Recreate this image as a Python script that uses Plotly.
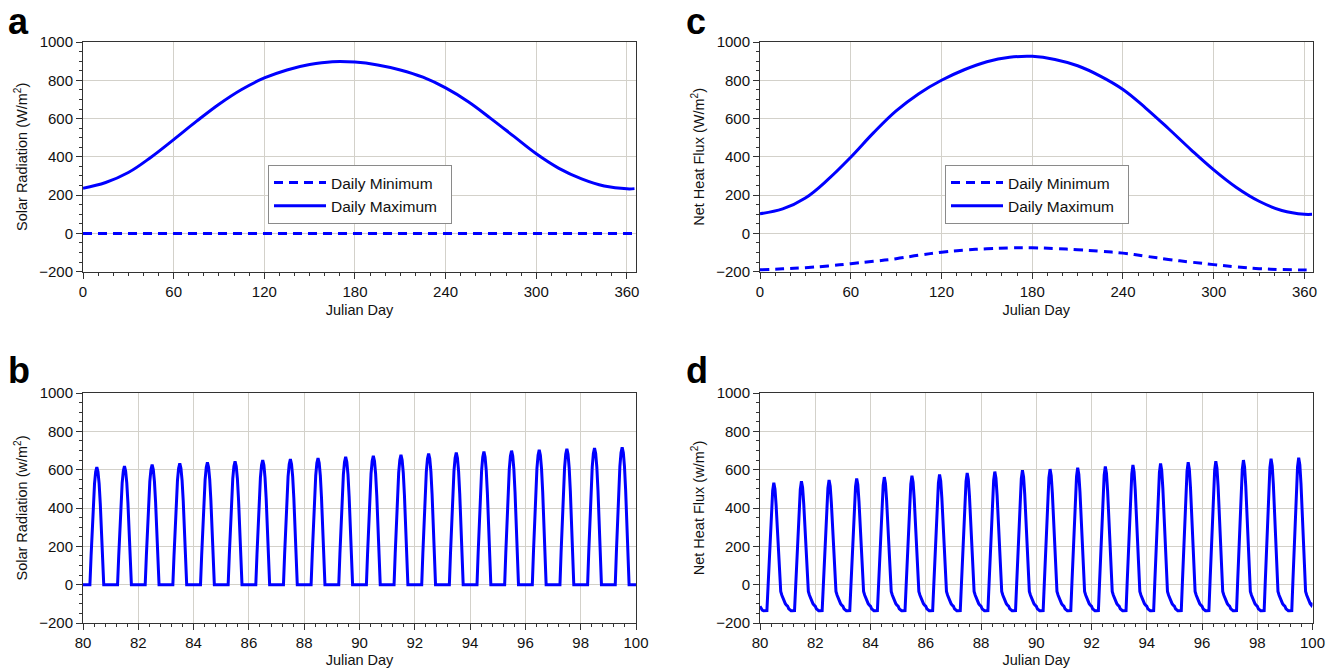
import plotly.graph_objects as go

# ---------------- data ----------------
annual_days = [0, 15, 30, 45, 60, 75, 90, 105, 120, 135, 150, 165, 180, 195, 210,
               225, 240, 255, 270, 285, 300, 315, 330, 345, 360, 365]
solar_daily_max = [236, 266, 318, 398, 490, 585, 675, 752, 812, 854, 882, 897, 895, 880,
                   854, 816, 760, 688, 600, 508, 416, 340, 285, 248, 233, 234]
solar_daily_min = [0] * 26
net_daily_max = [103, 128, 185, 282, 398, 525, 640, 730, 800, 855, 897, 920, 925, 909,
                 876, 822, 752, 655, 548, 437, 332, 240, 168, 120, 100, 100]
net_daily_min = [-190, -185, -179, -170, -158, -146, -132, -114, -98, -87, -80, -76, -75,
                 -79, -85, -93, -103, -119, -136, -150, -163, -175, -184, -189, -191, -191]

# diurnal detail, days 80-99 (hourly)
detail_days = list(range(80, 100))
solar_day_peaks = [613, 618, 626, 633, 638, 644, 650, 655, 661, 667,
                   672, 678, 684, 689, 694, 699, 704, 709, 713, 717]
net_day_peaks = [532, 540, 546, 554, 561, 568, 575, 583, 590, 597,
                 603, 610, 617, 624, 632, 639, 644, 650, 657, 662]
hours = list(range(24))
solar_shape = [0, 0, 0, 0, 0, 0, 0, 0.24, 0.48, 0.69, 0.86, 0.96, 1.0, 0.96, 0.86, 0.69,
               0.48, 0.24, 0, 0, 0, 0, 0, 0]
net_shape_day80 = [-112, -126, -133, -136, -136, -136, -135, -10, 130, 270, 395, 490, 532,
                   500, 415, 300, 170, 50, -35, -55, -72, -87, -99, -107]
solar_end_value = 0
net_end_value = -94

# build hourly series from the read values
bx, by, dy = [], [], []
for d, sp, npk in zip(detail_days, solar_day_peaks, net_day_peaks):
    for h, s, n in zip(hours, solar_shape, net_shape_day80):
        bx.append(d + h / 24)
        by.append(sp * s)
        dy.append(n + (npk - net_day_peaks[0]) * s)
bx.append(100)
by.append(solar_end_value)
dy.append(net_end_value)

# ---------------- figure ----------------
BLUE = "#0000ff"
FONT = "Liberation Sans, Arial, sans-serif"
W, H = 1338, 668
PAD = "\u00a0\u00a0"

fig = go.Figure()

SM = 1.1
fig.add_trace(go.Scatter(x=annual_days, y=solar_daily_min, mode="lines", name="Daily Minimum" + PAD,
                         line=dict(color=BLUE, width=3, dash="9px,6px"),
                         xaxis="x", yaxis="y", legend="legend"))
fig.add_trace(go.Scatter(x=annual_days, y=solar_daily_max, mode="lines", name="Daily Maximum" + PAD,
                         line=dict(color=BLUE, width=3, shape="spline", smoothing=SM),
                         xaxis="x", yaxis="y", legend="legend"))
fig.add_trace(go.Scatter(x=annual_days, y=net_daily_min, mode="lines", name="Daily Minimum" + PAD,
                         line=dict(color=BLUE, width=3, dash="9px,6px", shape="spline", smoothing=SM),
                         xaxis="x3", yaxis="y3", legend="legend2"))
fig.add_trace(go.Scatter(x=annual_days, y=net_daily_max, mode="lines", name="Daily Maximum" + PAD,
                         line=dict(color=BLUE, width=3, shape="spline", smoothing=SM),
                         xaxis="x3", yaxis="y3", legend="legend2"))
fig.add_trace(go.Scatter(x=bx, y=by, mode="lines", showlegend=False,
                         line=dict(color=BLUE, width=3), xaxis="x2", yaxis="y2"))
fig.add_trace(go.Scatter(x=bx, y=dy, mode="lines", showlegend=False,
                         line=dict(color=BLUE, width=3), xaxis="x4", yaxis="y4"))

xl, xr = 83 / W, 636 / W
cl, cr = 760 / W, 1312.5 / W
top_dom = [1 - 271.7 / H, 1 - 42 / H]
bot_dom = [1 - 623 / H, 1 - 393 / H]

GRID = "#d3d1ca"
AX = "#333333"

def xax(dom, anchor, rng, dtick, minor_dtick):
    return dict(domain=dom, anchor=anchor, range=rng, dtick=dtick, tick0=0 if dtick == 60 else 80,
                automargin=False,
                showgrid=True, gridcolor=GRID, gridwidth=1, zeroline=False,
                showline=True, linecolor=AX, linewidth=1, mirror=True,
                ticks="outside", ticklen=6, tickcolor=AX, tickwidth=1,
                minor=dict(dtick=minor_dtick, ticks="outside", ticklen=3, tickcolor=AX, showgrid=False),
                tickfont=dict(size=15, color="#111", family=FONT),
                title=dict(text="Julian Day", font=dict(size=14.5, color="#111", family=FONT), standoff=6))

def yax(dom, anchor, title):
    return dict(domain=dom, anchor=anchor, range=[-200, 1000], dtick=200,
                automargin=False,
                showgrid=True, gridcolor=GRID, gridwidth=1, zeroline=False,
                showline=True, linecolor=AX, linewidth=1, mirror=True,
                ticks="outside", ticklen=6, tickcolor=AX, tickwidth=1,
                minor=dict(dtick=50, ticks="outside", ticklen=3, tickcolor=AX, showgrid=False),
                tickfont=dict(size=15, color="#111", family=FONT),
                title=dict(text=title, font=dict(size=14.5, color="#111", family=FONT), standoff=8))

legend_style = dict(bgcolor="white", bordercolor="#8a8a8a", borderwidth=1,
                    font=dict(size=15.5, color="#111", family=FONT),
                    xanchor="left", yanchor="top", tracegroupgap=0, itemwidth=52)

fig.update_layout(
    width=W, height=H,
    margin=dict(l=0, r=0, t=0, b=0, autoexpand=False),
    paper_bgcolor="white", plot_bgcolor="white",
    font=dict(family=FONT, color="#111"),
    xaxis=xax([xl, xr], "y", [0, 366], 60, 10),
    yaxis=yax(top_dom, "x", "Solar Radiation (W/m<sup>2</sup>)"),
    xaxis2=xax([xl, xr], "y2", [80, 100], 2, 0.4),
    yaxis2=yax(bot_dom, "x2", "Solar Radiation (w/m<sup>2</sup>)"),
    xaxis3=xax([cl, cr], "y3", [0, 365.3], 60, 10),
    yaxis3=yax(top_dom, "x3", "Net Heat Flux (W/m<sup>2</sup>)"),
    xaxis4=xax([cl, cr], "y4", [80, 100], 2, 0.4),
    yaxis4=yax(bot_dom, "x4", "Net Heat Flux (w/m<sup>2</sup>)"),
    legend=dict(x=268 / W, y=1 - 165 / H, **legend_style),
    legend2=dict(x=945 / W, y=1 - 165 / H, **legend_style),
    showlegend=True,
)

panel_labels = [("a", 6, 21), ("b", 6, 370), ("c", 684, 21), ("d", 684, 370)]
for txt, px, py in panel_labels:
    fig.add_annotation(text=f"<b>{txt}</b>", xref="paper", yref="paper",
                       x=px / W, y=1 - py / H, xanchor="left", yanchor="middle",
                       showarrow=False, font=dict(size=36, color="black", family=FONT))

fig.write_html("out.html")
